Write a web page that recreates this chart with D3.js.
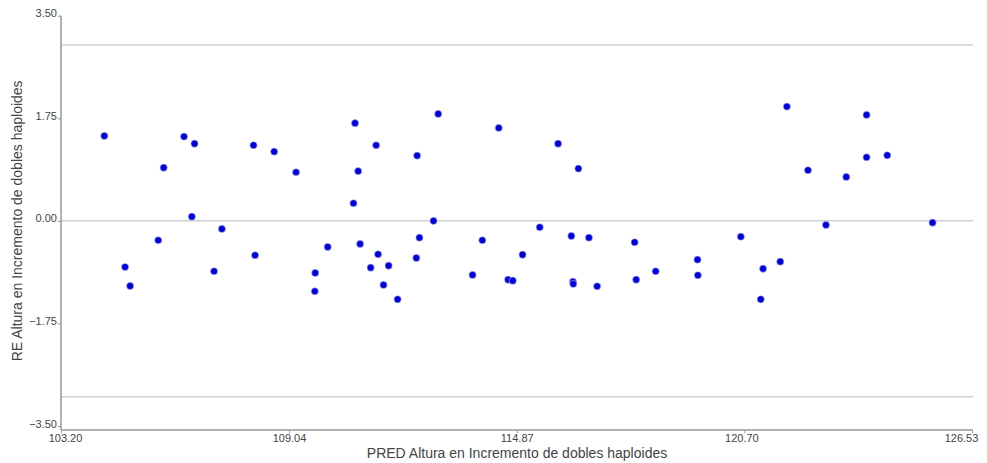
<!DOCTYPE html>
<html lang="en">
<head>
    <meta charset="utf-8">
    <title></title>
    <script src="https://d3js.org/d3.v7.min.js"></script>
    <style type="text/css">
        body{
            margin: 0;
            background: #fff;
        }
        .ticklab{
            font-size: 11px;
            font-family: "Liberation Sans", Arial, sans-serif;
            fill: #444;
        }
        .title{
            font-size: 14px;
            font-family: "Liberation Sans", Arial, sans-serif;
            fill: #444;
        }
    </style>
</head>
<body>
    <div id='frame'></div>
    <script type="text/javascript">

        // predicted values (x)
        const pred = [104.31, 104.84, 104.97, 105.69, 105.83, 106.35, 106.55, 106.62, 107.12, 107.32,
                      108.13, 108.17, 108.66, 109.22, 109.71, 109.70, 110.03, 110.69, 110.73, 110.81,
                      110.86, 111.13, 111.27, 111.32, 111.46, 111.59, 111.82, 112.30, 112.32, 112.38,
                      112.74, 112.86, 113.74, 113.99, 114.41, 114.65, 114.77, 115.02, 115.46, 115.93,
                      116.27, 116.31, 116.32, 116.45, 116.72, 116.93, 117.89, 117.93, 118.43, 119.50,
                      119.51, 120.61, 121.12, 121.18, 121.62, 121.79, 122.33, 122.79, 123.31, 123.83,
                      123.83, 124.36, 125.52];
        // studentized residuals (y)
        const resid = [1.449, -0.787, -1.111, -0.331, 0.908, 1.437, 0.072, 1.317, -0.860, -0.138,
                       1.290, -0.587, 1.181, 0.829, -0.889, -1.201, -0.445, 0.300, 1.667, 0.848,
                       -0.394, -0.799, 1.290, -0.570, -1.094, -0.765, -1.338, -0.633, 1.113, -0.287,
                       0.000, 1.824, -0.923, -0.331, 1.585, -1.003, -1.020, -0.577, -0.109, 1.317,
                       -0.258, -1.038, -1.077, 0.891, -0.287, -1.116, -0.365, -1.003, -0.860, -0.662,
                       -0.928, -0.270, -1.338, -0.816, -0.696, 1.949, 0.863, -0.070, 0.749, 1.085,
                       1.807, 1.119, -0.031];

        const xTicks = [103.20, 109.04, 114.87, 120.70, 126.53];
        const yTicks = [3.50, 1.75, 0.00, -1.75, -3.50];
        const refLines = [3, 0, -3];

        const W = 987, H = 463;
        const mLeft = 61, mRight = 972, mTop = 15.7, mBottom = 426;
        const axisY = 430;

        const x = d3.scaleLinear().domain([103.20, 126.53]).range([mLeft, mRight]);
        const y = d3.scaleLinear().domain([-3.5, 3.5]).range([mBottom, mTop]);

        const svg = d3.select("#frame").append("svg")
            .attr("width", W)
            .attr("height", H);

        // reference lines
        svg.selectAll("line.ref")
            .data(refLines)
            .enter()
            .append("line")
            .attr("class", "ref")
            .attr("x1", mLeft)
            .attr("x2", mRight + 1)
            .attr("y1", d => y(d))
            .attr("y2", d => y(d))
            .attr("stroke", "#d0d0d0")
            .attr("stroke-width", 1.5);

        // axes
        const xAxis = svg.append("g")
            .attr("transform", "translate(0," + axisY + ")")
            .call(d3.axisBottom(x).tickValues(xTicks).tickSize(3).tickSizeOuter(0).tickFormat(d3.format(".2f")));
        const yAxis = svg.append("g")
            .attr("transform", "translate(" + mLeft + ",0)")
            .call(d3.axisLeft(y).tickValues(yTicks).tickSize(3).tickSizeOuter(0).tickFormat(d3.format(".2f")));

        yAxis.select(".domain").attr("d", "M0," + mTop + "V" + axisY);
        xAxis.select(".domain").attr("d", "M" + mLeft + ",0H" + (mRight + 1));

        [xAxis, yAxis].forEach(a => {
            a.select(".domain").attr("stroke", "#999").attr("stroke-width", 1.5);
            a.selectAll(".tick line").attr("stroke", "#999");
            a.selectAll(".tick text").attr("class", "ticklab").attr("fill", null);
        });
        xAxis.selectAll(".tick text").attr("y", 4)
            .attr("dx", (d, i) => i === 0 ? 4 : (i === xTicks.length - 1 ? -11 : (i === 3 ? -3 : 0)));
        yAxis.selectAll(".tick text").attr("x", -4).attr("dy", "0.1em");

        // points
        svg.selectAll("circle.pt")
            .data(pred)
            .enter()
            .append("circle")
            .attr("class", "pt")
            .attr("cx", d => x(d))
            .attr("cy", (d, i) => y(resid[i]))
            .attr("r", 3.6)
            .attr("fill", "#0000dd")
            .attr("stroke", "#c8c8e8")
            .attr("stroke-width", 0.6);

        // titles
        svg.append("text")
            .attr("class", "title")
            .attr("text-anchor", "middle")
            .attr("x", 517)
            .attr("y", 458)
            .text("PRED Altura en Incremento de dobles haploides");

        svg.append("text")
            .attr("class", "title")
            .attr("text-anchor", "middle")
            .attr("transform", "translate(22," + y(0) + ") rotate(-90)")
            .text("RE Altura en Incremento de dobles haploides");

    </script>
</body>
</html>
